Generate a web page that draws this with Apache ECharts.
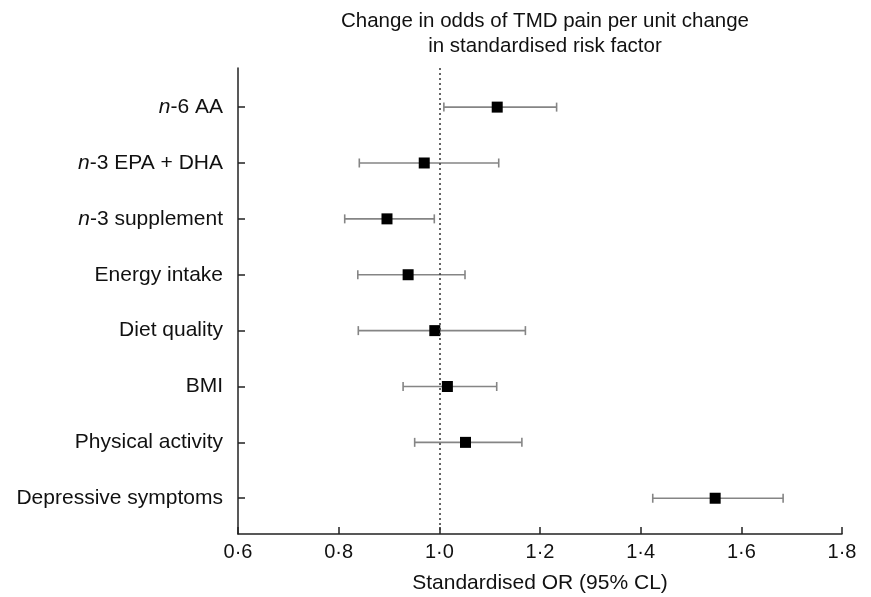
<!DOCTYPE html>
<html>
<head>
<meta charset="utf-8">
<script src="https://cdn.jsdelivr.net/npm/echarts@6/dist/echarts.min.js"></script>
<style>
html,body{margin:0;padding:0;background:#fff;}
#chart{width:871px;height:597px;}
</style>
</head>
<body>
<div id="chart"></div>
<script>
var categories = ['n-6 AA', 'n-3 EPA + DHA', 'n-3 supplement', 'Energy intake', 'Diet quality', 'BMI', 'Physical activity', 'Depressive symptoms'];
var oddsRatio = [1.115, 0.970, 0.896, 0.938, 0.991, 1.016, 1.052, 1.548];
var lowerCL = [1.009, 0.841, 0.812, 0.838, 0.839, 0.928, 0.951, 1.424];
var upperCL = [1.233, 1.118, 0.990, 1.051, 1.171, 1.114, 1.164, 1.683];
var xTicks = [0.6, 0.8, 1.0, 1.2, 1.4, 1.6, 1.8];

var FONT = 'Liberation Sans, Arial, sans-serif';
var chart = echarts.init(document.getElementById('chart'));

var idx = categories.map(function (_, i) { return i; });
var pointData = idx.map(function (i) { return [oddsRatio[i], i]; });
var barData = idx.map(function (i) { return [lowerCL[i], upperCL[i], i]; });

function catLabel(v) {
  var name = categories[Math.round(v)];
  if (name === undefined) return '';
  if (name.indexOf('n-') === 0) {
    return '{i|n}{r|' + name.slice(1) + '}';
  }
  return '{r|' + name + '}';
}

chart.setOption({
  animation: false,
  backgroundColor: '#ffffff',
  title: {
    text: 'Change in odds of TMD pain per unit change\nin standardised risk factor',
    left: 540,
    textAlign: 'center',
    top: 4,
    textStyle: { fontFamily: FONT, fontSize: 20.5, fontWeight: 'normal', color: '#111', lineHeight: 25 }
  },
  grid: { left: 238, right: 29, top: 68, bottom: 63, containLabel: false, outerBoundsMode: 'none' },
  xAxis: {
    type: 'value',
    min: 0.6,
    max: 1.8,
    interval: 0.2,
    splitLine: { show: false },
    axisLine: { show: true, onZero: false, lineStyle: { color: '#222', width: 1.5 } },
    axisTick: { show: true, inside: true, length: 7, lineStyle: { color: '#222', width: 1.5 } },
    axisLabel: {
      fontFamily: FONT, fontSize: 20, color: '#111', margin: 8,
      formatter: function (v) { return v.toFixed(1).replace('.', '\u00B7'); }
    },
    name: 'Standardised OR (95% CL)',
    nameLocation: 'middle',
    nameGap: 39,
    nameTextStyle: { fontFamily: FONT, fontSize: 21, color: '#111' }
  },
  yAxis: {
    type: 'value',
    inverse: true,
    min: -0.7,
    max: 7.64,
    splitLine: { show: false },
    axisLine: { show: true, onZero: false, lineStyle: { color: '#222', width: 1.5 } },
    axisTick: { show: true, inside: true, length: 7, customValues: idx, lineStyle: { color: '#222', width: 1.5 } },
    axisLabel: {
      customValues: idx,
      margin: 15,
      formatter: catLabel,
      rich: {
        i: { fontFamily: FONT, fontSize: 21, color: '#111', fontStyle: 'italic' },
        r: { fontFamily: FONT, fontSize: 21, color: '#111' }
      }
    }
  },
  series: [
    {
      type: 'custom',
      data: barData,
      encode: { x: [0, 1], y: 2 },
      renderItem: function (params, api) {
        var y = api.value(2);
        var p1 = api.coord([api.value(0), y]);
        var p2 = api.coord([api.value(1), y]);
        var h = 4.5;
        var st = { stroke: '#858585', lineWidth: 1.6, fill: null };
        return {
          type: 'group',
          children: [
            { type: 'line', shape: { x1: p1[0], y1: p1[1], x2: p2[0], y2: p2[1] }, style: st },
            { type: 'line', shape: { x1: p1[0], y1: p1[1] - h, x2: p1[0], y2: p1[1] + h }, style: st },
            { type: 'line', shape: { x1: p2[0], y1: p2[1] - h, x2: p2[0], y2: p2[1] + h }, style: st }
          ]
        };
      },
      markLine: {
        silent: true,
        symbol: 'none',
        label: { show: false },
        lineStyle: { color: '#333', type: [2, 3], width: 1.5 },
        data: [{ xAxis: 1.0 }]
      },
      z: 2
    },
    {
      type: 'scatter',
      data: pointData,
      symbol: 'rect',
      symbolSize: 11,
      itemStyle: { color: '#000', opacity: 1 },
      z: 3
    }
  ]
});
</script>
</body>
</html>
